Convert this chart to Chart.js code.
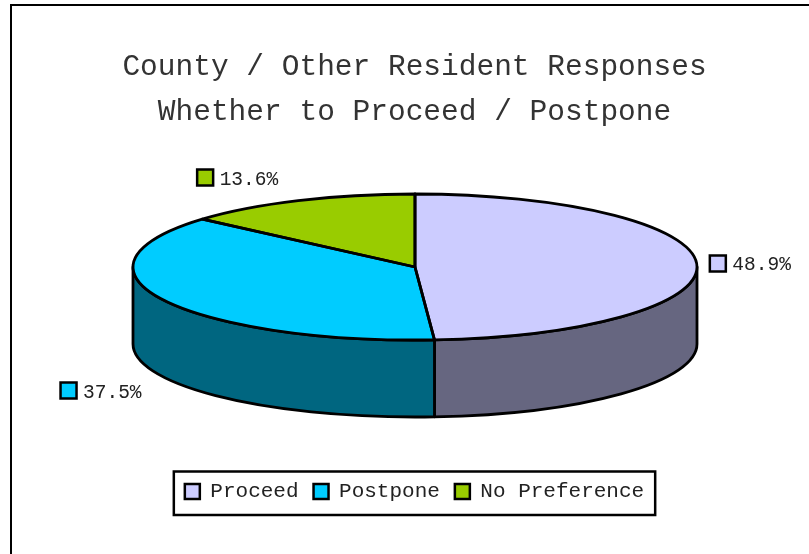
<!DOCTYPE html>
<html>
<head>
<meta charset="utf-8">
<style>html,body{margin:0;padding:0;background:#fff}canvas{display:block}</style>
<script src="https://cdn.jsdelivr.net/npm/chart.js@4"></script>
</head>
<body>
<canvas id="c" width="809" height="554"></canvas>
<script>
const titleLines = ["County / Other Resident Responses", "Whether to Proceed / Postpone"];
const categories = ["Proceed", "Postpone", "No Preference"];
const values = [48.9, 37.5, 13.6];
const colors = ["#CCCCFF", "#00CCFF", "#99CC00"];
const sideColors = ["#666680", "#006680", "#4D6600"];

const FONT = '"Liberation Mono", monospace';
const RX = 282, RY = 73, DEPTH = 77, CX = 415, CY = 267;
const labelOffsets = [{dx: 13, dy: -1}, {dx: -102, dy: 91}, {dx: -101, dy: -23}];

function px(a){ return CX + RX * Math.cos(a); }
function py(a){ return CY + RY * Math.sin(a); }

const pie3d = {
  id: 'pie3d',
  beforeDraw(chart){
    const c = chart.ctx;
    c.save();
    c.strokeStyle = '#000'; c.lineWidth = 2;
    c.strokeRect(11, 5, 1000, 1000);
    c.restore();
  },
  beforeDatasetsDraw(chart){
    const c = chart.ctx, arcs = chart.getDatasetMeta(0).data;
    c.save();
    c.lineWidth = 2.8; c.strokeStyle = '#000'; c.lineJoin = 'round';
    arcs.forEach((a, i) => {
      const s = Math.max(a.startAngle, 0), e = Math.min(a.endAngle, Math.PI);
      if (e <= s) return;
      c.beginPath();
      c.ellipse(CX, CY, RX, RY, 0, s, e);
      c.lineTo(px(e), py(e) + DEPTH);
      c.ellipse(CX, CY + DEPTH, RX, RY, 0, e, s, true);
      c.closePath();
      c.fillStyle = sideColors[i];
      c.fill();
      c.stroke();
    });
    c.restore();
    const a0 = arcs[0];
    c.save();
    c.translate(CX, CY);
    c.scale(1, RY / RX);
    c.translate(-a0.x, -a0.y);
  },
  afterDatasetsDraw(chart){
    const c = chart.ctx, arcs = chart.getDatasetMeta(0).data;
    c.restore();
    c.save();
    c.lineWidth = 2.8; c.strokeStyle = '#000'; c.lineJoin = 'round';
    arcs.forEach(a => {
      c.beginPath();
      c.moveTo(CX, CY);
      c.lineTo(px(a.startAngle), py(a.startAngle));
      c.ellipse(CX, CY, RX, RY, 0, a.startAngle, a.endAngle);
      c.closePath();
      c.stroke();
    });
    arcs.forEach((a, i) => {
      const mid = (a.startAngle + a.endAngle) / 2;
      const off = labelOffsets[i];
      const lx = px(mid) + off.dx, ly = py(mid) + off.dy;
      c.fillStyle = colors[i];
      c.lineWidth = 2.5;
      c.lineJoin = 'miter';
      c.beginPath();
      c.rect(lx, ly - 8, 16, 16);
      c.fill(); c.stroke();
      c.fillStyle = '#222';
      c.font = '19.5px ' + FONT;
      c.textBaseline = 'alphabetic';
      c.textAlign = 'left';
      c.fillText(values[i].toFixed(1) + '%', lx + 22.5, ly + 7);
    });
    c.restore();
  },
  afterDraw(chart){
    const hb = chart.legend.legendHitBoxes;
    const l = hb[0].left, r = hb[hb.length-1].left + hb[hb.length-1].width;
    const c = chart.ctx;
    const cy = hb[0].top + hb[0].height / 2;
    c.save();
    c.strokeStyle = '#000'; c.lineWidth = 2.5;
    c.strokeRect(l - 11, cy - 20, r - l + 22, 43.5);
    c.restore();
  }
};

new Chart(document.getElementById('c'), {
  type: 'pie',
  data: {
    labels: categories,
    datasets: [{
      data: values,
      backgroundColor: colors,
      borderWidth: 0,
      clip: false,
      radius: RX
    }]
  },
  plugins: [pie3d],
  options: {
    responsive: false,
    animation: false,
    layout: {padding: {left: 20, right: 0, top: 0, bottom: 42}},
    plugins: {
      tooltip: {enabled: false},
      title: {
        display: true,
        text: titleLines,
        color: '#333',
        font: {family: FONT, size: 29.5, weight: 'normal', lineHeight: 1.52},
        padding: {top: 45, bottom: 10}
      },
      legend: {
        display: true,
        position: 'bottom',
        labels: {
          color: '#222',
          font: {family: FONT, size: 21},
          boxWidth: 15,
          boxHeight: 15,
          padding: 15,
          generateLabels(chart){
            return Chart.overrides.doughnut.plugins.legend.labels.generateLabels(chart).map(it => Object.assign(it, {strokeStyle: '#000', lineWidth: 2.5, lineJoin: 'miter'}));
          }
        }
      }
    }
  }
});
</script>
</body>
</html>
